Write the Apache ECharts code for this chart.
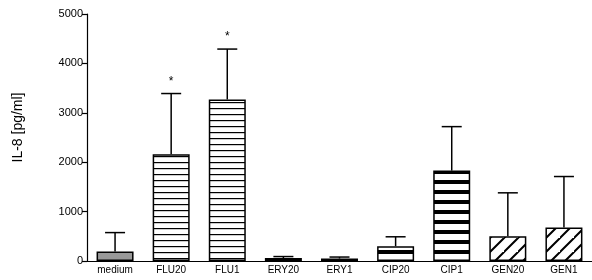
<!DOCTYPE html>
<html>
<head>
<meta charset="utf-8">
<script src="https://cdn.jsdelivr.net/npm/echarts@6/dist/echarts.min.js"></script>
<style>
  html, body { margin: 0; padding: 0; background: #fff; }
  #chart { width: 592px; height: 280px; }
</style>
</head>
<body>
<div id="chart"></div>
<script>
// values
const groups = ['medium', 'FLU20', 'FLU1', 'ERY20', 'ERY1', 'CIP20', 'CIP1', 'GEN20', 'GEN1'];
const means = [190, 2160, 3270, 60, 50, 300, 1830, 500, 680];
const errTops = [575, 3390, 4290, 90, 80, 490, 2720, 1380, 1710];
const stars = ['', '*', '*', '', '', '', '', '', ''];
const fills = ['gray', 'thin', 'thin', 'smallDiag', 'smallDiag', 'thick', 'thick', 'diag', 'diag'];
const yTicks = [0, 5000, 1000];

// small canvas tiles used as bar fills
function tile(w, h, draw) {
    const c = document.createElement('canvas');
    c.width = w; c.height = h;
    const ctx = c.getContext('2d');
    ctx.fillStyle = '#fff';
    ctx.fillRect(0, 0, w, h);
    ctx.fillStyle = '#000';
    ctx.strokeStyle = '#000';
    draw(ctx);
    return { image: c, repeat: 'repeat' };
}
function diagTile(size, lw) {
    return tile(size, size, (ctx) => {
        ctx.lineWidth = lw;
        ctx.beginPath();
        ctx.moveTo(-1, size + 1); ctx.lineTo(size + 1, -1);
        ctx.moveTo(-1 - size, size + 1); ctx.lineTo(1, -1);
        ctx.moveTo(size - 1, 2 * size + 1); ctx.lineTo(2 * size + 1, size - 1);
        ctx.stroke();
    });
}
const patterns = {
    gray: '#999999',
    thin: tile(8, 6, (ctx) => ctx.fillRect(0, 0, 8, 1.2)),
    thick: tile(8, 10, (ctx) => ctx.fillRect(0, 0, 8, 4)),
    diag: diagTile(14, 2),
    smallDiag: diagTile(6, 0.8)
};

const chart = echarts.init(document.getElementById('chart'));
chart.setOption({
    animation: false,
    grid: { left: 87, right: 0, top: 14, bottom: 19 },
    xAxis: {
        type: 'category',
        data: groups,
        axisLine: { lineStyle: { color: '#000', width: 1.2 } },
        axisTick: { show: false },
        axisLabel: { color: '#000', fontSize: 10, fontFamily: 'Liberation Sans', margin: 4 }
    },
    yAxis: {
        type: 'value',
        min: yTicks[0],
        max: yTicks[1],
        interval: yTicks[2],
        name: 'IL-8 [pg/ml]',
        nameLocation: 'middle',
        nameGap: 62,
        nameTextStyle: { color: '#000', fontSize: 14, fontFamily: 'Liberation Sans', padding: [0, 0, 0, 20] },
        axisLine: { show: true, lineStyle: { color: '#000', width: 1.2 } },
        axisTick: { show: true, length: 5, lineStyle: { color: '#000', width: 1.2 } },
        axisLabel: { color: '#000', fontSize: 11, fontFamily: 'Liberation Sans', margin: 4, formatter: (v) => String(v) },
        splitLine: { show: false }
    },
    series: [
        {
            type: 'bar',
            barWidth: 37,
            data: means.map((v, i) => ({
                value: v,
                itemStyle: { color: patterns[fills[i]], borderColor: '#000', borderWidth: 1.5 }
            }))
        },
        {
            type: 'custom',
            data: means.map((v, i) => [i, v, errTops[i], stars[i]]),
            renderItem: function (params, api) {
                const base = api.coord([api.value(0), api.value(1)]);
                const top = api.coord([api.value(0), api.value(2)]);
                const half = 10;
                const children = [
                    { type: 'line', shape: { x1: base[0], y1: base[1], x2: top[0], y2: top[1] }, style: { stroke: '#000', lineWidth: 1.5 } },
                    { type: 'line', shape: { x1: top[0] - half, y1: top[1], x2: top[0] + half, y2: top[1] }, style: { stroke: '#000', lineWidth: 1.5 } }
                ];
                const s = stars[params.dataIndex];
                if (s) {
                    children.push({
                        type: 'text',
                        style: { text: s, x: top[0], y: top[1] - 6, align: 'center', verticalAlign: 'bottom', fill: '#000', font: '12px Liberation Sans' }
                    });
                }
                return { type: 'group', children: children };
            },
            z: 3
        }
    ]
});
</script>
</body>
</html>
